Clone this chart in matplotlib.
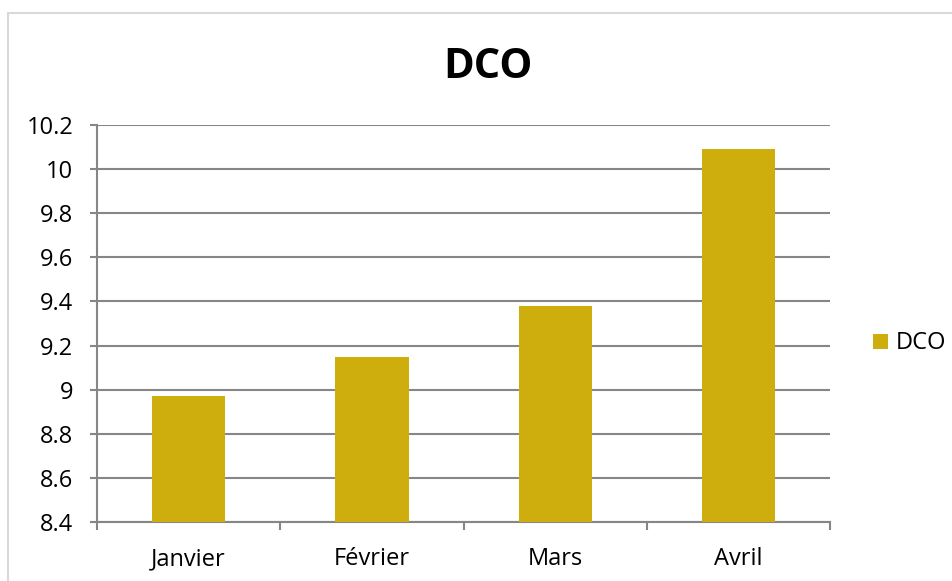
import matplotlib.pyplot as plt
from matplotlib.patches import Rectangle

# Data
months = ['Janvier', 'Février', 'Mars', 'Avril']
dco = [8.97, 9.15, 9.38, 10.09]
yticks = [8.4, 8.6, 8.8, 9.0, 9.2, 9.4, 9.6, 9.8, 10.0, 10.2]
ytick_labels = ['8.4', '8.6', '8.8', '9', '9.2', '9.4', '9.6', '9.8', '10', '10.2']

plt.rcParams['font.family'] = ['Open Sans', 'DejaVu Sans']

fig = plt.figure(figsize=(9.53, 5.81), dpi=100)
ax = fig.add_axes([0.1018, 0.1015, 0.7693, 0.6834])

# outer chart border
fig.patches.append(Rectangle((8 / 953, -0.01), 1.0, 1 - 13 / 581 + 0.01,
                             transform=fig.transFigure, fill=False,
                             edgecolor='#d9d9d9', linewidth=1.5))

grid_col = '#868686'
x = range(len(months))
ax.bar(x, dco, width=0.4, color='#CDAE0C', label='DCO', zorder=3)

ax.set_xlim(-0.5, len(months) - 0.5)
ax.set_ylim(8.4, 10.2)
ax.set_yticks(yticks)
ax.set_yticklabels(ytick_labels)
ax.set_xticks(list(x))
ax.set_xticklabels(months)
ax.set_xticks([i - 0.5 for i in range(len(months) + 1)], minor=True)

ax.grid(axis='y', color=grid_col, linewidth=1.5, zorder=0)
for s in ['top', 'right']:
    ax.spines[s].set_visible(False)
for s in ['left', 'bottom']:
    ax.spines[s].set_color(grid_col)
    ax.spines[s].set_linewidth(1.5)

ax.tick_params(axis='y', length=5, width=1.5, color=grid_col, labelsize=17, pad=12)
ax.tick_params(axis='x', which='major', length=0, labelsize=17, pad=18)
ax.tick_params(axis='x', which='minor', length=6, width=1.5, color=grid_col)

fig.text(0.512, 0.883, 'DCO', ha='center', va='center', fontsize=30, fontweight='bold')

ax.legend(loc='center left', bbox_to_anchor=(1.03, 0.45), frameon=False,
          fontsize=17, handlelength=0.6, handleheight=0.6, handletextpad=0.35)

fig.savefig('out.png', dpi=100)
